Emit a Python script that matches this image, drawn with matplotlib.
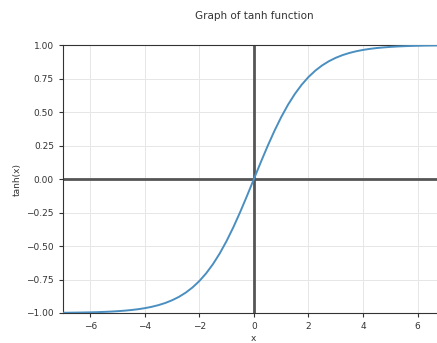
import matplotlib
matplotlib.use("Agg")
import matplotlib.pyplot as plt

# x sample points (step 0.25 from 0 to 7); curve is odd-symmetric
x_pos = [i * 0.25 for i in range(0, 29)]
# curve values for x >= 0
y_pos = [
    0.0000, 0.1244, 0.2449, 0.3584, 0.4621, 0.5546, 0.6351, 0.7039,
    0.7616, 0.8093, 0.8483, 0.8798, 0.9051, 0.9254, 0.9414, 0.9541,
    0.9640, 0.9719, 0.9780, 0.9828, 0.9866, 0.9896, 0.9919, 0.9937,
    0.9951, 0.9962, 0.9970, 0.9977, 0.9982,
]
x_vals = [-v for v in x_pos[:0:-1]] + x_pos
y_vals = [-v for v in y_pos[:0:-1]] + y_pos

xticks = [-6, -4, -2, 0, 2, 4, 6]
yticks = [-1.00, -0.75, -0.50, -0.25, 0.00, 0.25, 0.50, 0.75, 1.00]

fig = plt.figure(figsize=(4.37, 3.43), dpi=100)
ax = fig.add_axes([0.144, 0.0875, 0.874, 0.781])
ax.grid(True, color="#e6e6e6", linewidth=0.7)
ax.axhline(0, color="#555555", linewidth=2, zorder=2)
ax.axvline(0, color="#555555", linewidth=2, zorder=2)
ax.plot(x_vals, y_vals, color="#4a8fc0", linewidth=1.4, zorder=3)
ax.set_xlim(-7, 7)
ax.set_ylim(-1, 1)
ax.set_xticks(xticks)
ax.set_yticks(yticks)
ax.set_yticklabels([f"{v:.2f}".replace("-", "\u2212") for v in yticks])
ax.tick_params(labelsize=6.5, length=3, color="#333333", labelcolor="#333333")
ax.set_xlabel("x", fontsize=6.5, labelpad=2, color="#333333")
ax.set_ylabel("tanh(x)", fontsize=6.5, labelpad=3, color="#333333")
ax.set_title("Graph of tanh function", fontsize=7.5, pad=19, color="#333333")
for s in ax.spines.values():
    s.set_color("#333333")
    s.set_linewidth(0.8)
fig.savefig("out.png", dpi=100)
